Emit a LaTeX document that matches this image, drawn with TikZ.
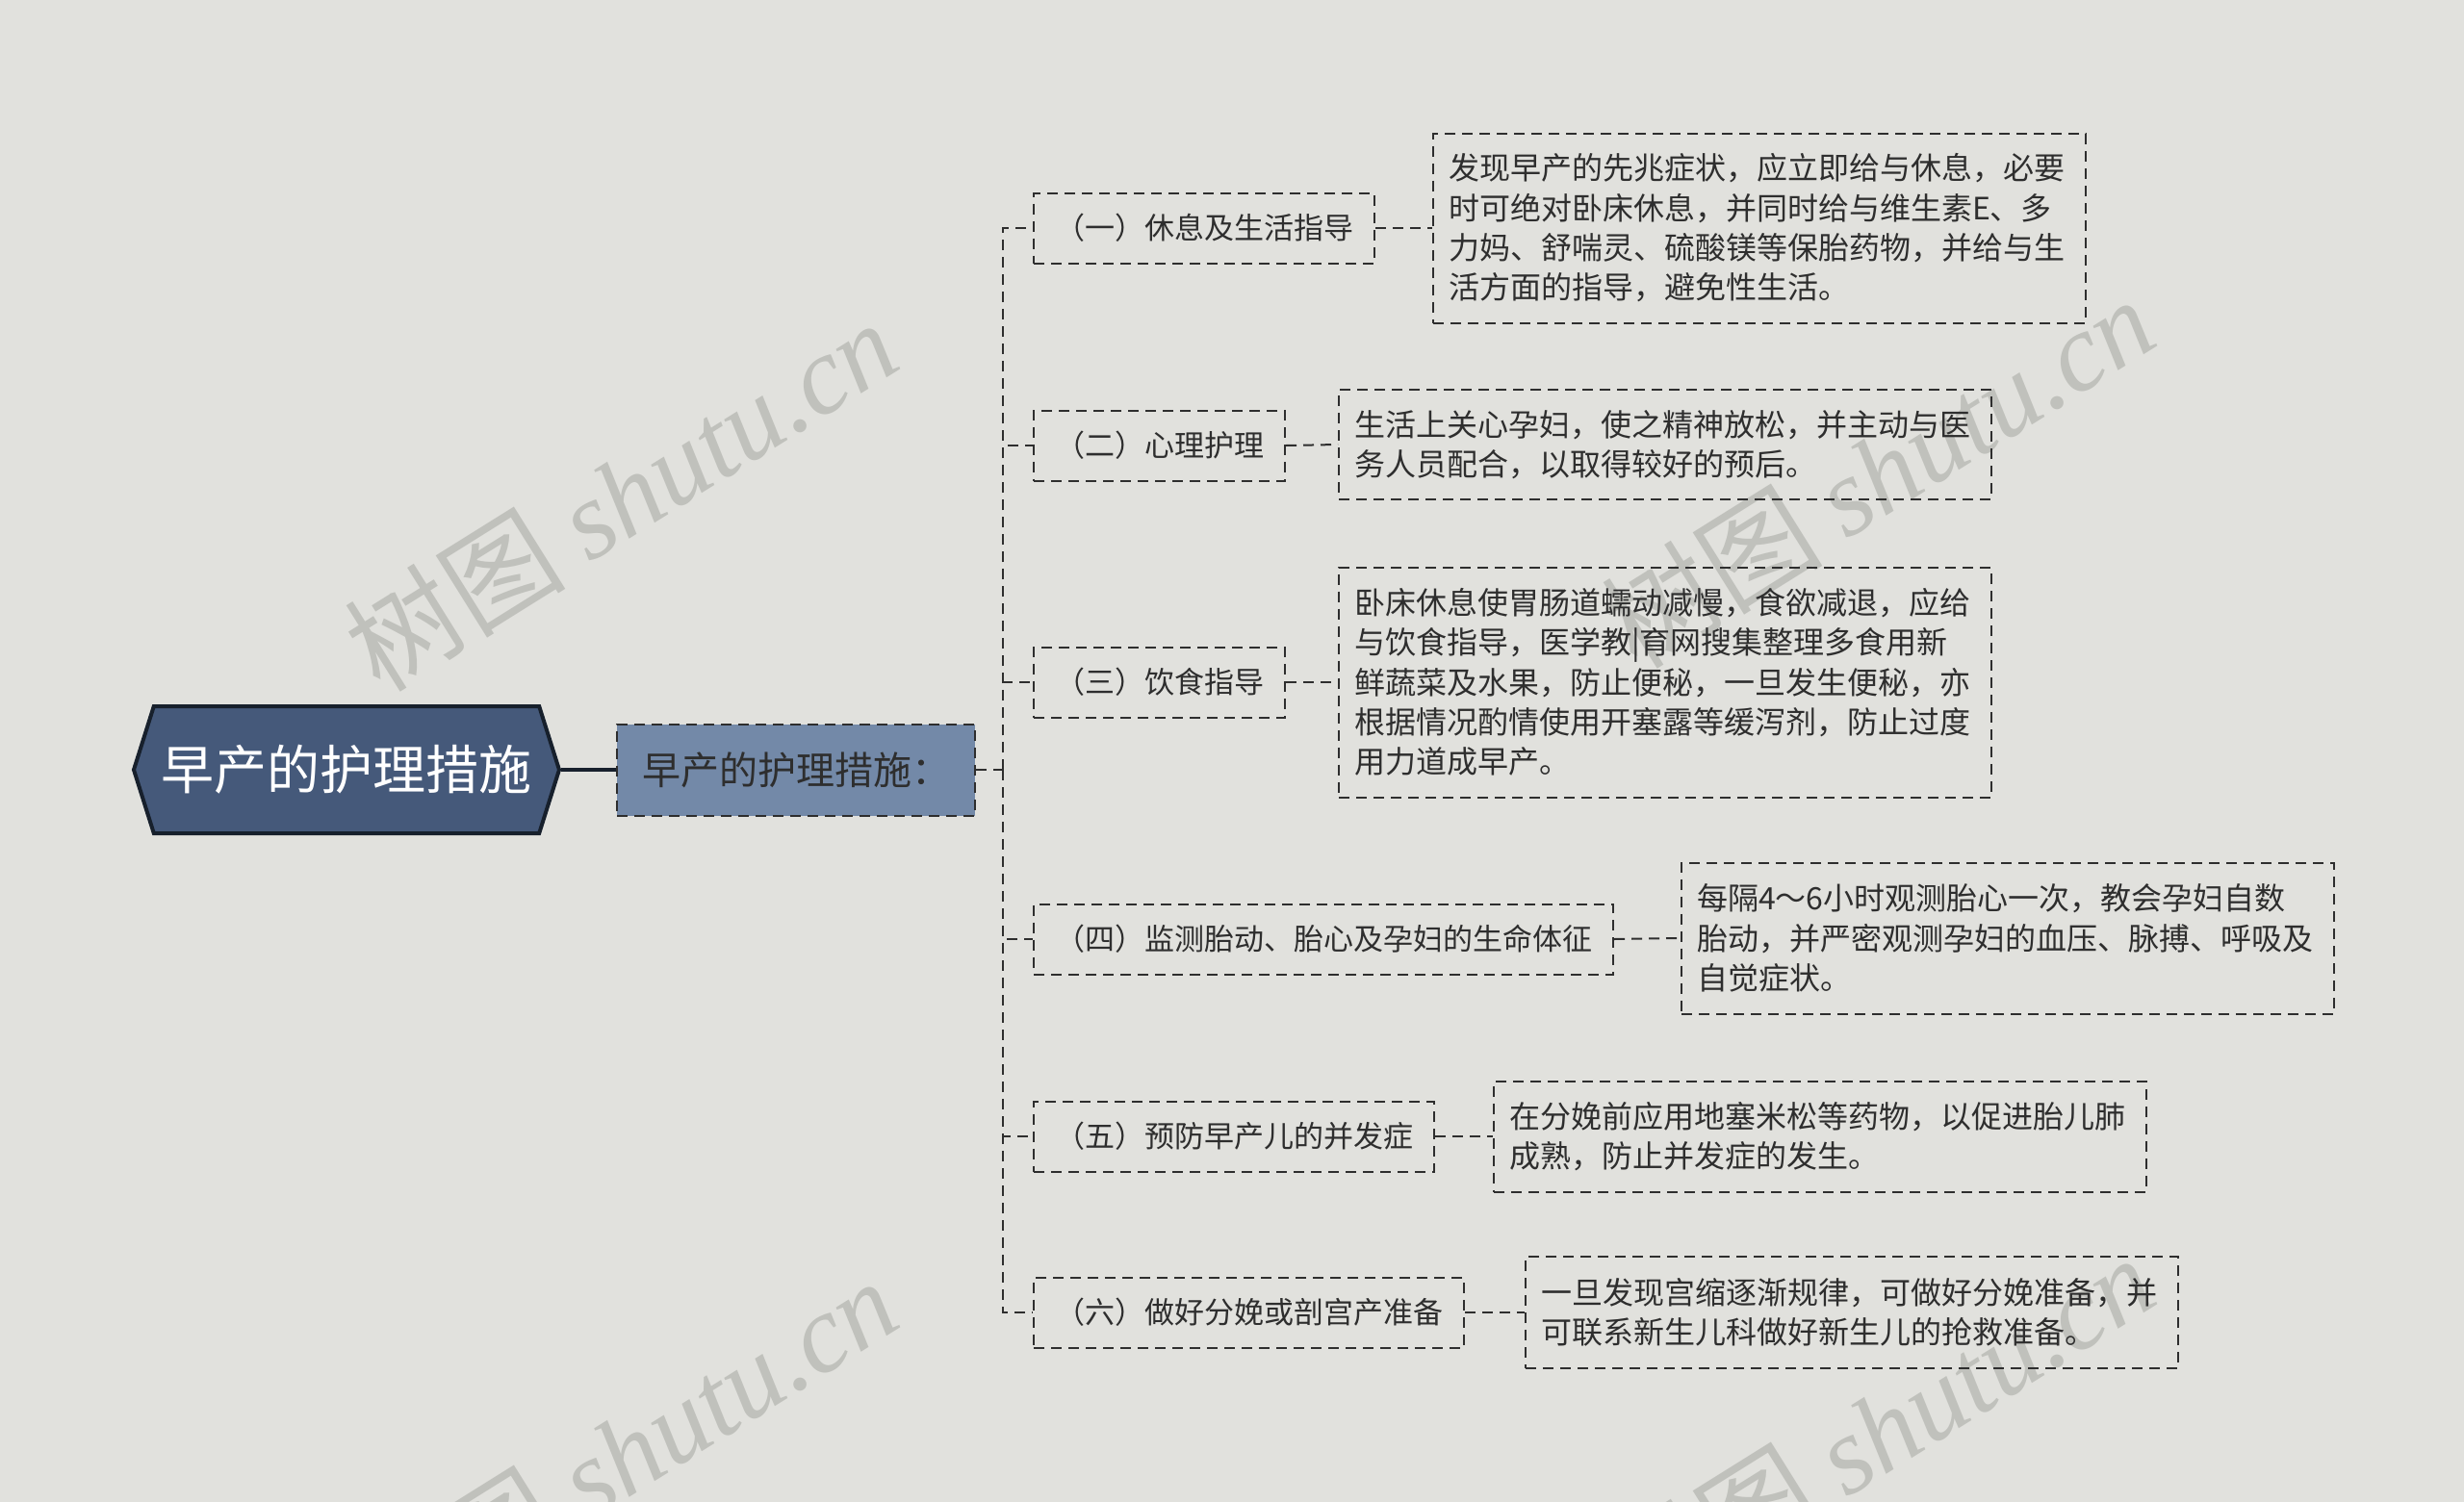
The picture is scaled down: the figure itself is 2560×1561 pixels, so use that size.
\documentclass[tikz,border=0pt]{standalone}
\usepackage{fontspec}
\setmainfont{Noto Sans CJK SC}
\newfontfamily\wmlatin{Liberation Serif}
\usetikzlibrary{shapes.symbols}
\definecolor{paper}{HTML}{E1E1DD}
\definecolor{rootfill}{HTML}{45597A}
\definecolor{rootedge}{HTML}{17202C}
\definecolor{subfill}{HTML}{7389A8}
\definecolor{ink}{HTML}{2E2E2E}
\definecolor{wmgray}{HTML}{C0C1BC}

\begin{document}
\begin{tikzpicture}[x=1pt, y=-1pt,
	link/.style={draw=ink, line width=2pt, dash pattern=on 11pt off 7pt},
	topic/.style={link, anchor=west, inner xsep=22pt, minimum height=73pt, text=ink, font=\fontsize{31}{37}\selectfont},
	leaf/.style={topic, align=left, inner xsep=16pt, text width=646pt, minimum height=#1, font=\fontsize{32}{41.3}\selectfont},
	wm/.style={rotate=32, text=wmgray, font=\fontsize{115}{115}\selectfont}]
	\useasboundingbox[fill=paper] (0,0) rectangle (2560,1561);
	\clip (0,0) rectangle (2560,1561);
	% watermarks
	\node[wm] (wm1) at (645,514) {树图 {\wmlatin\itshape shutu.cn}};
	\node[wm] (wm2) at (1951,490) {树图 {\wmlatin\itshape shutu.cn}};
	\node[wm] (wm3) at (645,1510) {树图 {\wmlatin\itshape shutu.cn}};
	\node[wm] (wm4) at (1951,1486) {树图 {\wmlatin\itshape shutu.cn}};
	% root and summary
	\node[signal, signal to=west and east, signal pointer angle=145, fill=rootfill, draw=rootedge, line width=4pt, minimum width=442pt, minimum height=132pt, inner sep=0pt, text=white, font=\fontsize{55}{60}\selectfont] (root) at (360,800) {早产的护理措施};
	\node[topic, fill=subfill, inner xsep=26pt, minimum height=95pt, font=\fontsize{40}{48}\selectfont] (sub) at (640,800) {早产的护理措施：};
	% measures
	\node[topic] (b1) at (1073,237) {（一）休息及生活指导};
	\node[topic] (b2) at (1073,463) {（二）心理护理};
	\node[topic] (b3) at (1073,709) {（三）饮食指导};
	\node[topic] (b4) at (1073,976) {（四）监测胎动、胎心及孕妇的生命体征};
	\node[topic] (b5) at (1073,1181) {（五）预防早产儿的并发症};
	\node[topic] (b6) at (1073,1364) {（六）做好分娩或剖宫产准备};
	% details
	\node[leaf=197pt] (l1) at (1488,237) {发现早产的先兆症状，应立即给与休息，必要\\时可绝对卧床休息，并同时给与维生素E、多\\力妈、舒喘灵、硫酸镁等保胎药物，并给与生\\活方面的指导，避免性生活。};
	\node[leaf=114pt] (l2) at (1390,462) {生活上关心孕妇，使之精神放松，并主动与医\\务人员配合，以取得较好的预后。};
	\node[leaf=239pt] (l3) at (1390,709) {卧床休息使胃肠道蠕动减慢，食欲减退，应给\\与饮食指导，医学教|育网搜集整理多食用新\\鲜蔬菜及水果，防止便秘，一旦发生便秘，亦\\根据情况酌情使用开塞露等缓泻剂，防止过度\\用力道成早产。};
	\node[leaf=157pt] (l4) at (1746,975) {每隔4～6小时观测胎心一次，教会孕妇自数\\胎动，并严密观测孕妇的血压、脉搏、呼吸及\\自觉症状。};
	\node[leaf=115pt] (l5) at (1551,1181) {在分娩前应用地塞米松等药物，以促进胎儿肺\\成熟，防止并发症的发生。};
	\node[leaf=116pt] (l6) at (1584,1364) {一旦发现宫缩逐渐规律，可做好分娩准备，并\\可联系新生儿科做好新生儿的抢救准备。};
	\coordinate (fork) at (1042,800);
	\draw[rootedge, line width=3.5pt] (root.east) -- (sub.west);
	\draw[link] (sub.east) -- (fork);
	\foreach \n in {1,...,6} {
		\draw[link] (fork) |- (b\n.west);
		\draw[link] (b\n.east) -- (l\n.west);
	}
\end{tikzpicture}
\end{document}
